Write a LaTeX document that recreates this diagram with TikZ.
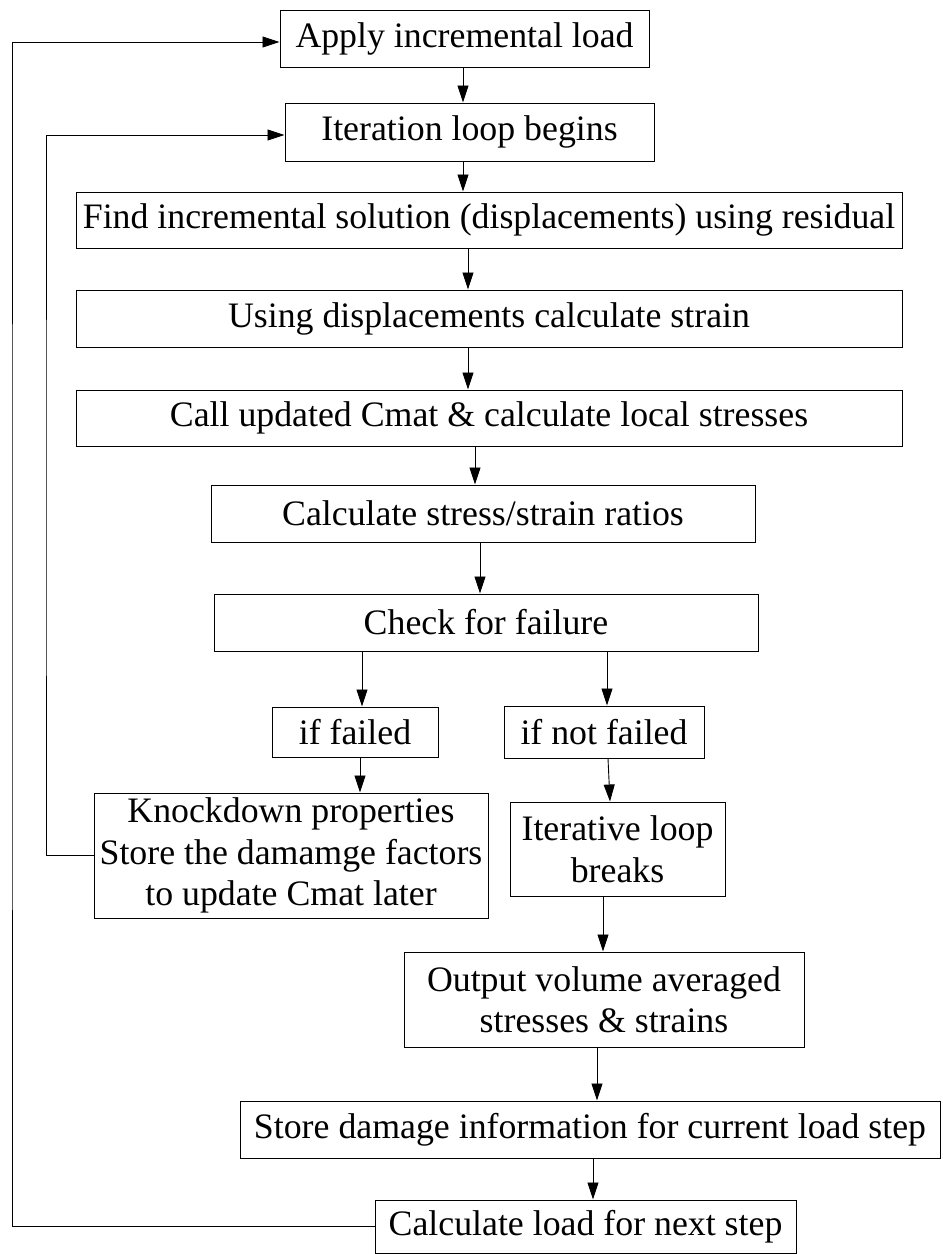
\documentclass[tikz,border=0pt]{standalone}
\usepackage{fontspec}
\setmainfont{Liberation Serif}
\usetikzlibrary{arrows.meta}
\begin{document}
\begin{tikzpicture}[x=1pt,y=-1pt,
  box/.style={draw, line width=1pt, inner sep=0pt, align=center,
    font=\fontsize{35.8}{41.5}\selectfont},
  arr/.style={line width=0.9pt, -{Triangle[length=17pt,width=11pt]}}]
\useasboundingbox (0,0) rectangle (943,1254);
\node[box, minimum width=369pt, minimum height=57pt] (n1) at (464.5,38.5) {Apply incremental load};
\node[box, minimum width=369pt, minimum height=58pt] (n2) at (469.5,132) {Iteration loop begins};
\node[box, minimum width=826pt, minimum height=56pt] (n3) at (489,220) {Find incremental solution (displacements) using residual};
\node[box, minimum width=826pt, minimum height=57pt] (n4) at (489,318.5) {Using displacements calculate strain};
\node[box, minimum width=826pt, minimum height=56pt] (n5) at (489,418) {Call updated Cmat \& calculate local stresses};
\node[box, minimum width=544pt, minimum height=57pt] (n6) at (483,513.5) {Calculate stress/strain ratios};
\node[box, minimum width=544pt, minimum height=57pt] (n7) at (486,622.5) {Check for failure};
\node[box, minimum width=166pt, minimum height=50pt] (n8) at (355,732) {if failed};
\node[box, minimum width=200pt, minimum height=52pt] (n9) at (604,732) {if not failed};
\node[box, minimum width=394pt, minimum height=125pt] (n10) at (291,855.5) {Knockdown properties\\Store the damamge factors\\to update Cmat later};
\node[box, minimum width=215pt, minimum height=94pt] (n11) at (617.5,849) {Iterative loop\\breaks};
\node[box, minimum width=400pt, minimum height=95pt] (n12) at (604,999.5) {Output volume averaged\\stresses \& strains};
\node[box, minimum width=700pt, minimum height=57pt] (n13) at (590,1129.5) {Store damage information for current load step};
\node[box, minimum width=421pt, minimum height=53pt] (n14) at (585.5,1226.5) {Calculate load for next step};
\coordinate (cL) at (12,600);
\coordinate (cI) at (46,500);
\draw[arr] ([xshift=-1.5pt]n1.south) -- ([xshift=-6.5pt]n2.north);
\draw[arr] ([xshift=-6.5pt]n2.south) -- ([xshift=-26pt]n3.north);
\draw[arr] ([xshift=-21pt]n3.south) -- ([xshift=-21pt]n4.north);
\draw[arr] ([xshift=-21pt]n4.south) -- ([xshift=-21pt]n5.north);
\draw[arr] ([xshift=-14pt]n5.south) -- ([xshift=-8pt]n6.north);
\draw[arr] ([xshift=-3pt]n6.south) -- ([xshift=-6pt]n7.north);
\draw[arr] ([xshift=-124pt]n7.south) -- ([xshift=7pt]n8.north);
\draw[arr] ([xshift=121pt]n7.south) -- ([xshift=3pt]n9.north);
\draw[arr] ([xshift=5pt]n8.south) -- ([xshift=69pt]n10.north);
\draw[arr] ([xshift=4pt]n9.south) -- ([xshift=-7.5pt]n11.north);
\draw[arr] ([xshift=-14.5pt]n11.south) -- ([xshift=-1pt]n12.north);
\draw[arr] ([xshift=-7pt]n12.south) -- ([xshift=7pt]n13.north);
\draw[arr] ([xshift=3pt]n13.south) -- ([xshift=7.5pt]n14.north);
\draw[arr] (n14.west) -| (cL) |- ([yshift=-3.5pt]n1.west);
\draw[arr] (n10.west) -| (cI) |- ([yshift=-3pt]n2.west);
\end{tikzpicture}
\end{document}
